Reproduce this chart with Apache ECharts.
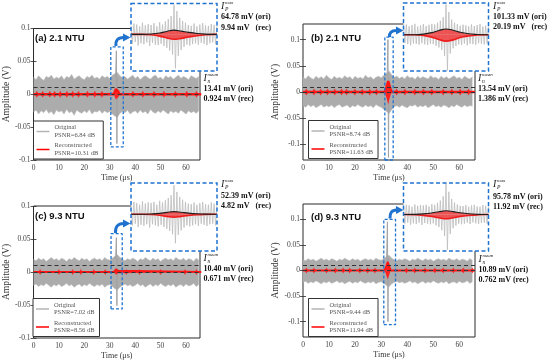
<!DOCTYPE html>
<html><head><meta charset="utf-8">
<script src="https://cdn.jsdelivr.net/npm/echarts@6/dist/echarts.min.js"></script>
<style>html,body{margin:0;padding:0;background:#fff}#c{width:550px;height:361px}</style>
</head><body><div id="c"></div>
<script>
// ---------------- DATA ----------------
const panelLabels = ['(a) 2.1 NTU','(b) 2.1 NTU','(c) 9.3 NTU','(d) 9.3 NTU'];
const psnrOri = ['6.84','8.74','7.02','9.44'];
const psnrRec = ['10.31','11.63','8.56','11.94'];
const ipOriTxt = ['64.78 mV (ori)','101.33 mV (ori)','52.39 mV (ori)','95.78 mV (ori)'];
const ipRecTxt = ['9.94 mV   (rec)','20.19 mV   (rec)','4.82 mV   (rec)','11.92 mV (rec)'];
const inOriTxt = ['13.41 mV (ori)','13.54 mV (ori)','10.40 mV (ori)','10.89 mV (ori)'];
const inRecTxt = ['0.924 mV (rec)','1.386 mV (rec)','0.671 mV (rec)','0.762 mV (rec)'];
const meanOriV = [0.01341, 0.01354, 0.01040, 0.01089];
const meanRecV = [0.000924, 0.001386, 0.000671, 0.000762];
const xTicks = [0,10,20,30,40,50,60];
const yTicks = [-0.1,-0.05,0,0.05,0.1];

// noise envelope of original signal, one value per microsecond (0..65 us)
const noiseUpA = [0.026,0.022,0.028,0.024,0.021,0.027,0.025,0.029,0.023,0.026,0.024,0.028,0.022,0.027,0.025,0.03,0.023,0.026,0.028,0.024,0.022,0.027,0.025,0.029,0.024,0.026,0.023,0.028,0.025,0.027,0.024,0.029,0.031,0.033,0.028,0.025,0.027,0.023,0.026,0.029,0.024,0.027,0.022,0.026,0.028,0.025,0.023,0.027,0.029,0.024,0.026,0.022,0.028,0.025,0.027,0.023,0.026,0.029,0.024,0.027,0.025,0.022,0.028,0.026,0.024,0.027];
const noiseLoA = [-0.027,-0.024,-0.03,-0.025,-0.028,-0.023,-0.029,-0.026,-0.031,-0.024,-0.027,-0.025,-0.03,-0.023,-0.028,-0.026,-0.032,-0.024,-0.027,-0.029,-0.025,-0.028,-0.023,-0.03,-0.026,-0.027,-0.024,-0.029,-0.025,-0.028,-0.026,-0.03,-0.033,-0.035,-0.029,-0.026,-0.028,-0.024,-0.03,-0.027,-0.025,-0.029,-0.024,-0.028,-0.026,-0.03,-0.023,-0.027,-0.029,-0.025,-0.028,-0.024,-0.027,-0.03,-0.025,-0.028,-0.026,-0.029,-0.024,-0.027,-0.03,-0.025,-0.028,-0.026,-0.029,-0.025];
const noiseUpB = [0.028,0.025,0.031,0.027,0.024,0.03,0.026,0.029,0.025,0.032,0.027,0.024,0.03,0.026,0.028,0.025,0.031,0.027,0.029,0.024,0.03,0.026,0.028,0.025,0.032,0.027,0.029,0.024,0.028,0.03,0.027,0.032,0.036,0.04,0.033,0.028,0.03,0.026,0.029,0.025,0.031,0.027,0.028,0.024,0.03,0.026,0.029,0.027,0.025,0.031,0.027,0.028,0.024,0.03,0.026,0.029,0.025,0.028,0.031,0.026,0.028,0.024,0.03,0.027,0.025,0.029];
const noiseLoB = [-0.026,-0.029,-0.024,-0.028,-0.025,-0.03,-0.027,-0.024,-0.029,-0.026,-0.028,-0.025,-0.03,-0.026,-0.024,-0.029,-0.027,-0.025,-0.03,-0.026,-0.028,-0.024,-0.027,-0.029,-0.025,-0.028,-0.026,-0.03,-0.024,-0.027,-0.029,-0.033,-0.037,-0.041,-0.034,-0.028,-0.026,-0.029,-0.025,-0.028,-0.03,-0.026,-0.027,-0.024,-0.029,-0.026,-0.028,-0.025,-0.03,-0.027,-0.024,-0.028,-0.026,-0.029,-0.025,-0.027,-0.03,-0.026,-0.028,-0.024,-0.027,-0.029,-0.025,-0.028,-0.026,-0.027];
const noiseUpC = [0.019,0.017,0.021,0.018,0.02,0.016,0.019,0.022,0.018,0.02,0.017,0.021,0.019,0.016,0.02,0.018,0.022,0.019,0.017,0.021,0.018,0.02,0.016,0.019,0.021,0.018,0.02,0.017,0.022,0.019,0.018,0.021,0.024,0.026,0.022,0.019,0.017,0.02,0.018,0.021,0.019,0.016,0.02,0.018,0.022,0.019,0.017,0.021,0.018,0.02,0.016,0.019,0.021,0.018,0.02,0.017,0.022,0.019,0.018,0.021,0.017,0.02,0.019,0.016,0.021,0.018];
const noiseLoC = [-0.02,-0.018,-0.022,-0.019,-0.021,-0.017,-0.02,-0.023,-0.019,-0.021,-0.018,-0.022,-0.02,-0.017,-0.021,-0.019,-0.023,-0.02,-0.018,-0.022,-0.019,-0.021,-0.017,-0.02,-0.022,-0.019,-0.021,-0.018,-0.023,-0.02,-0.019,-0.022,-0.025,-0.027,-0.023,-0.02,-0.018,-0.021,-0.019,-0.022,-0.02,-0.017,-0.021,-0.019,-0.023,-0.02,-0.018,-0.022,-0.019,-0.021,-0.017,-0.02,-0.022,-0.019,-0.021,-0.018,-0.023,-0.02,-0.019,-0.022,-0.018,-0.021,-0.02,-0.017,-0.022,-0.019];
const noiseUpD = [0.021,0.019,0.023,0.02,0.022,0.018,0.021,0.024,0.02,0.022,0.019,0.023,0.021,0.018,0.022,0.02,0.024,0.021,0.019,0.023,0.02,0.022,0.018,0.021,0.023,0.02,0.022,0.019,0.024,0.021,0.02,0.023,0.027,0.03,0.024,0.021,0.019,0.022,0.02,0.023,0.021,0.018,0.022,0.02,0.024,0.021,0.019,0.023,0.02,0.022,0.018,0.021,0.023,0.02,0.022,0.019,0.024,0.021,0.02,0.023,0.019,0.022,0.021,0.018,0.023,0.02];
const noiseLoD = [-0.023,-0.021,-0.025,-0.022,-0.024,-0.02,-0.023,-0.026,-0.022,-0.024,-0.021,-0.025,-0.023,-0.02,-0.024,-0.022,-0.026,-0.023,-0.021,-0.025,-0.022,-0.024,-0.02,-0.023,-0.025,-0.022,-0.024,-0.021,-0.026,-0.023,-0.022,-0.025,-0.029,-0.032,-0.026,-0.023,-0.021,-0.024,-0.022,-0.025,-0.023,-0.02,-0.024,-0.022,-0.026,-0.023,-0.021,-0.025,-0.022,-0.024,-0.02,-0.023,-0.025,-0.022,-0.024,-0.021,-0.026,-0.023,-0.022,-0.025,-0.021,-0.024,-0.023,-0.02,-0.025,-0.022];

// echo spike of the original signal
const spikeTA = [32.3,32.6,32.8,33.0], spikeVA = [0.025,0.066,-0.075,0.025];
const spikeTB = [32.3,32.6,32.8,33.0], spikeVB = [0.03,0.1,-0.125,0.03];
const spikeTC = [32.3,32.6,32.8,33.0], spikeVC = [0.02,0.052,-0.051,0.02];
const spikeTD = [32.1,32.4,32.6,32.8], spikeVD = [0.025,0.095,-0.1,0.025];

// reconstructed signal: spindle around the echo (rest is ~0)
const recTA = [0,31.6,32.0,32.4,32.7,33.0,33.4,33.8,66];
const recUpA = [0,0,0.004,0.008,0.011,0.008,0.004,0,0];
const recLoA = [0,0,-0.004,-0.008,-0.009,-0.008,-0.004,0,0];
const recTB = [0,31.3,31.8,32.3,32.7,33.1,33.6,34.1,66];
const recUpB = [0,0,0.006,0.014,0.021,0.014,0.006,0,0];
const recLoB = [0,0,-0.007,-0.016,-0.024,-0.015,-0.006,0,0];
const recTC = [0,31.7,32.1,32.4,32.7,33.0,33.3,33.7,66];
const recUpC = [0,0,0.002,0.004,0.006,0.004,0.002,0,0];
const recLoC = [0,0,-0.002,-0.004,-0.006,-0.004,-0.002,0,0];
const recTD = [0,31.2,31.7,32.1,32.5,32.9,33.3,33.8,66];
const recUpD = [0,0,0.005,0.011,0.017,0.011,0.005,0,0];
const recLoD = [0,0,-0.005,-0.011,-0.017,-0.011,-0.005,0,0];
// small residual bursts of the reconstruction (times in us)
const blobTA = [1.3,3.6,6.4,8.3,10.5,13.1,15.4,17.7,21.2,24.1,26.9,39.1,43,47.4,51.3,55.8,60.3,64.1];
const blobTB = [1.3,4.2,6.8,9.4,12.2,14.8,16.7,19.9,22.7,25.6,28.2,35.9,39.1,42.9,46.2,49.4,53.8,57.1,60.3,63.5];
const blobTC = [2.6,10,15.4,18.6,23.7,28.2,36.5,41.7,50,59.6,64.1];
const blobTD = [1.3,4.2,9,12.4,15.4,17.9,21.8,24.8,27.6,39.7,42.9,46.8,50.6,53.8,57.7,61.5,65];

// dashed zoom windows [t0,t1] x [v0,v1]
const zoomBoxT = [[30.4,35.3],[31.4,34.6],[30.5,34.9],[31.0,35.5]];
const zoomBoxV = [[-0.08,0.072],[-0.13,0.105],[-0.056,0.058],[-0.106,0.1]];

// insets: magnified samples around the echo
const insetOriA = [0.019,-0.021,0.024,-0.017,0.022,-0.025,0.018,-0.02,0.026,-0.022,0.02,-0.018,0.023,-0.026,0.021,-0.019,0.025,-0.023,0.018,-0.024,0.027,-0.021,0.022,-0.026,0.029,-0.03,0.034,-0.036,0.041,-0.045,0.066,-0.076,0.052,-0.048,0.037,-0.035,0.03,-0.028,0.026,-0.023,0.021,-0.025,0.019,-0.022,0.024,-0.02,0.018,-0.023,0.022,-0.019,0.025,-0.021,0.02,-0.024,0.019,-0.02,0.023,-0.018,0.021,-0.022,0.02];
const insetOriB = [0.03,-0.027,0.034,-0.031,0.028,-0.035,0.032,-0.029,0.036,-0.03,0.027,-0.033,0.031,-0.028,0.035,-0.032,0.029,-0.034,0.033,-0.03,0.036,-0.031,0.034,-0.037,0.04,-0.042,0.046,-0.05,0.058,-0.07,0.1,-0.118,0.075,-0.062,0.05,-0.045,0.04,-0.037,0.035,-0.032,0.03,-0.034,0.033,-0.029,0.031,-0.035,0.028,-0.03,0.034,-0.031,0.029,-0.033,0.032,-0.028,0.035,-0.03,0.027,-0.032,0.03,-0.029,0.031];
const insetOriC = [0.018,-0.02,0.022,-0.017,0.02,-0.023,0.017,-0.019,0.023,-0.021,0.019,-0.018,0.021,-0.024,0.02,-0.018,0.022,-0.02,0.017,-0.022,0.024,-0.019,0.021,-0.023,0.025,-0.026,0.029,-0.03,0.034,-0.036,0.052,-0.052,0.04,-0.037,0.031,-0.029,0.026,-0.024,0.022,-0.02,0.019,-0.022,0.018,-0.02,0.021,-0.018,0.017,-0.021,0.02,-0.017,0.022,-0.019,0.018,-0.021,0.017,-0.018,0.021,-0.017,0.019,-0.02,0.018];
const insetOriD = [0.026,-0.028,0.03,-0.025,0.028,-0.031,0.024,-0.027,0.031,-0.029,0.027,-0.025,0.029,-0.032,0.028,-0.026,0.03,-0.028,0.025,-0.03,0.032,-0.027,0.03,-0.033,0.036,-0.038,0.043,-0.048,0.056,-0.066,0.096,-0.108,0.07,-0.06,0.048,-0.042,0.037,-0.034,0.031,-0.028,0.027,-0.03,0.026,-0.028,0.029,-0.025,0.024,-0.029,0.028,-0.024,0.03,-0.027,0.025,-0.029,0.024,-0.026,0.029,-0.025,0.027,-0.028,0.026];
const insetEnvT = [0,8,14,20,25,30,35,40,46,52,58,60];
const insetEnvUpA = [0,0,0.0008,0.003,0.0065,0.0095,0.0072,0.0045,0.002,0.0006,0,0];
const insetEnvLoA = [0,0,-0.001,-0.004,-0.008,-0.011,-0.009,-0.006,-0.003,-0.001,0,0];
const insetEnvUpB = [0,0,0.002,0.007,0.014,0.019,0.015,0.008,0.003,0.001,0,0];
const insetEnvLoB = [0,0,-0.002,-0.008,-0.016,-0.021,-0.017,-0.009,-0.004,-0.001,0,0];
const insetEnvUpC = [0,0,0.0005,0.0015,0.0033,0.0047,0.0035,0.002,0.0008,0.0002,0,0];
const insetEnvLoC = [0,0,-0.0006,-0.002,-0.004,-0.0055,-0.004,-0.0024,-0.001,-0.0003,0,0];
const insetEnvUpD = [0,0.0005,0.002,0.005,0.0085,0.0115,0.009,0.0055,0.0025,0.0008,0,0];
const insetEnvLoD = [0,-0.0006,-0.0025,-0.006,-0.01,-0.013,-0.01,-0.006,-0.003,-0.001,0,0];

// ---------------- LAYOUT / STYLE ----------------
const SERIF = '"Liberation Serif","Times New Roman",serif';
const SANS = '"Liberation Sans",Arial,sans-serif';
const BLUE = '#1f73cf';
const mainGrid = [
  {left:30, top:28.5, width:170, height:131.5},
  {left:303, top:24, width:172, height:136},
  {left:30, top:206, width:170, height:133},
  {left:303, top:204, width:172, height:133}
];
const xMax = [65.5, 66, 65.5, 66];
const yRange = [[-0.1,0.1],[-0.13,0.13],[-0.1,0.1],[-0.13,0.13]];
const insetBox = [
  {left:131, top:3.5, width:86, height:67.5},
  {left:403.5, top:3, width:85, height:68},
  {left:131, top:183, width:86, height:68},
  {left:403.5, top:183, width:85, height:68}
];
const insetY = [[-0.082,0.069],[-0.12,0.105],[-0.066,0.056],[-0.112,0.097]];
const legendPos = [{left:33.5, top:121},{left:308.5, top:120.5},{left:33, top:298.5},{left:308.5, top:298.5}];
const labelPos = [[35,38.5],[311,38.5],[35,216.5],[311,217.5]];
const annot = [
  {ipX:221, ipY:6.5, ipOriY:17, ipRecY:27.5, inX:203.5, inY:78, inOriY:88.5, inRecY:98.5},
  {ipX:493, ipY:6, ipOriY:16.5, ipRecY:27, inX:478, inY:78, inOriY:89, inRecY:98.5},
  {ipX:221, ipY:184.5, ipOriY:195.5, ipRecY:206, inX:203.5, inY:258.5, inOriY:269, inRecY:278.5},
  {ipX:493, ipY:184.5, ipOriY:196.5, ipRecY:207, inX:478.5, inY:259, inOriY:270, inRecY:279.5}
];
const arrows = [
  {x1:116, y1:46, cx:115, cy:37.5, x2:123.5, y2:37.5},
  {x1:389.5, y1:37, cx:389, cy:30.5, x2:396.5, y2:30.5},
  {x1:115.5, y1:233, cx:115, cy:223.5, x2:123.5, y2:223.5},
  {x1:390, y1:218.5, cx:389.5, cy:210, x2:396.5, y2:210}
];
const redWidth = [2.4, 2.4, 1.8, 1.8];

const noiseUp = [noiseUpA, noiseUpB, noiseUpC, noiseUpD];
const noiseLo = [noiseLoA, noiseLoB, noiseLoC, noiseLoD];
const spikeT = [spikeTA, spikeTB, spikeTC, spikeTD];
const spikeV = [spikeVA, spikeVB, spikeVC, spikeVD];
const recT = [recTA, recTB, recTC, recTD];
const recUp = [recUpA, recUpB, recUpC, recUpD];
const recLo = [recLoA, recLoB, recLoC, recLoD];
const blobT = [blobTA, blobTB, blobTC, blobTD];
const insetOri = [insetOriA, insetOriB, insetOriC, insetOriD];
const insetEnvUp = [insetEnvUpA, insetEnvUpB, insetEnvUpC, insetEnvUpD];
const insetEnvLo = [insetEnvLoA, insetEnvLoB, insetEnvLoC, insetEnvLoD];

const pairs = (t, v) => v.map((y, k) => [t[k], y]);
const idx = v => v.map((y, k) => [k, y]);
const fmt = v => (v === 0 ? '0' : String(+v.toFixed(2)));

const grid = [], xAxis = [], yAxis = [], series = [], legend = [], graphic = [];

for (let i = 0; i < 4; i++) grid.push(Object.assign({show:true, borderColor:'#2a2a2a', borderWidth:1, backgroundColor:'#fff'}, mainGrid[i]));
for (let i = 0; i < 4; i++) grid.push(Object.assign({show:false}, insetBox[i]));

const tickStyle = {inside:true, length:3, lineStyle:{color:'#2a2a2a', width:0.8}};
for (let i = 0; i < 4; i++) {
  xAxis.push({gridIndex:i, type:'value', min:0, max:xMax[i],
    axisLine:{show:false}, splitLine:{show:false},
    axisTick:Object.assign({customValues:xTicks}, tickStyle),
    axisLabel:{customValues:xTicks, fontFamily:SERIF, fontSize:7.5, color:'#444', margin:4},
    name:'Time (μs)', nameLocation:'middle', nameGap:14,
    nameTextStyle:{fontFamily:SERIF, fontSize:8, color:'#333'}});
  yAxis.push({gridIndex:i, type:'value', min:yRange[i][0], max:yRange[i][1],
    axisLine:{show:false}, splitLine:{show:false},
    axisTick:Object.assign({customValues:yTicks}, tickStyle),
    axisLabel:{customValues:yTicks, formatter:fmt, fontFamily:SERIF, fontSize:7.5, color:'#444', margin:3},
    name:'Amplitude (V)', nameLocation:'middle', nameGap:19,
    nameTextStyle:{fontFamily:SERIF, fontSize:9.5, color:'#333'}});
}
for (let i = 0; i < 4; i++) {
  xAxis.push({gridIndex:i, type:'value', position:'top', min:0, max:xMax[i],
    axisLine:{show:false}, splitLine:{show:false}, axisLabel:{show:false},
    axisTick:Object.assign({customValues:xTicks}, tickStyle)});
  yAxis.push({gridIndex:i, type:'value', position:'right', min:yRange[i][0], max:yRange[i][1],
    axisLine:{show:false}, splitLine:{show:false}, axisLabel:{show:false},
    axisTick:Object.assign({customValues:yTicks}, tickStyle)});
}
for (let i = 0; i < 4; i++) {
  xAxis.push({gridIndex:4+i, type:'value', min:0, max:insetOri[i].length - 1, show:false});
  yAxis.push({gridIndex:4+i, type:'value', min:insetY[i][0], max:insetY[i][1], show:false});
}

for (let i = 0; i < 4; i++) {
  const common = {xAxisIndex:i, yAxisIndex:i, symbol:'none', silent:true};
  series.push(Object.assign({name:'Original', type:'line', data:idx(noiseUp[i]), color:'#b4b4b4',
    lineStyle:{width:0.6, color:'#b9b9b9'}, areaStyle:{color:'#acacac', opacity:1}, z:2}, common));
  series.push(Object.assign({name:'Original', type:'line', data:idx(noiseLo[i]), color:'#b4b4b4',
    lineStyle:{width:0.6, color:'#b9b9b9'}, areaStyle:{color:'#acacac', opacity:1}, z:2}, common));
  series.push(Object.assign({name:'Original', type:'line', data:pairs(spikeT[i], spikeV[i]), color:'#b4b4b4',
    lineStyle:{width:1, color:'#a4a4a4'}, z:2}, common));
  series.push(Object.assign({name:'Reconstructed', type:'line', data:pairs(recT[i], recUp[i]), color:'#ff0000',
    lineStyle:{width:redWidth[i], color:'#ff1414'}, areaStyle:{color:'#ff2020', opacity:1}, z:3,
    markLine:{silent:true, symbol:'none', label:{show:false}, z:5,
      lineStyle:{color:'#333', width:1, type:[4,3]},
      data:[{yAxis:meanOriV[i]}, {yAxis:meanRecV[i]}]}}, common));
  series.push(Object.assign({name:'Reconstructed', type:'line', data:pairs(recT[i], recLo[i]), color:'#ff0000',
    lineStyle:{width:0}, areaStyle:{color:'#ff2020', opacity:1}, z:3}, common));
  series.push({name:'Reconstructed', type:'scatter', xAxisIndex:i, yAxisIndex:i, silent:true,
    data:blobT[i].map(t => [t, 0]), symbol:'diamond', symbolSize:i < 2 ? [4,7] : [3.5,6],
    itemStyle:{color:'#ff1414'}, z:3});
  const bt = zoomBoxT[i], bv = zoomBoxV[i];
  series.push(Object.assign({name:'zoom window', type:'line', clip:false,
    data:[[bt[0],bv[0]],[bt[1],bv[0]],[bt[1],bv[1]],[bt[0],bv[1]],[bt[0],bv[0]]],
    lineStyle:{color:BLUE, width:1.3, type:[3,2]}, z:6}, common));

  // inset
  const ic = {xAxisIndex:8+i, yAxisIndex:8+i, symbol:'none', silent:true};
  series.push(Object.assign({name:'inset original', type:'line', data:idx(insetOri[i]),
    lineStyle:{width:0.8, color:'#bdbdbd'}, z:10}, ic));
  series.push(Object.assign({name:'inset reconstructed', type:'line', data:pairs(insetEnvT, insetEnvLo[i]), smooth:0.4,
    lineStyle:{width:1.6, color:'#ee1c1c'}, areaStyle:{color:'#f04545', opacity:0.9}, z:11}, ic));
  series.push(Object.assign({name:'inset envelope', type:'line', data:pairs(insetEnvT, insetEnvUp[i]), smooth:0.4,
    lineStyle:{width:1.1, color:'#1e1e1e'}, areaStyle:{color:'#f04545', opacity:0.9}, z:12}, ic));

  legend.push(Object.assign({orient:'vertical', data:['Original','Reconstructed'], selectedMode:false,
    icon:'rect', itemWidth:13, itemHeight:1.5, itemGap:3, padding:[3,5,2,3],
    backgroundColor:'#fff', borderColor:'#333', borderWidth:1, borderRadius:0,
    textStyle:{fontFamily:SERIF, fontSize:6.5, lineHeight:7.5, color:'#555'},
    formatter:name => name === 'Original' ? 'Original\nPSNR=' + psnrOri[i] + ' dB' : 'Reconstructed\nPSNR=' + psnrRec[i] + ' dB',
    z:8}, legendPos[i]));

  const b = insetBox[i];
  graphic.push({type:'rect', shape:{x:b.left, y:b.top, width:b.width, height:b.height}, style:{fill:'#fff'}, z:8, silent:true});
  graphic.push({type:'rect', shape:{x:b.left, y:b.top, width:b.width, height:b.height},
    style:{fill:null, stroke:BLUE, lineWidth:1.5, lineDash:[4,2.5]}, z:20, silent:true});
  const a = arrows[i];
  graphic.push({type:'bezierCurve', shape:{x1:a.x1, y1:a.y1, x2:a.x2, y2:a.y2, cpx1:a.cx, cpy1:a.cy},
    style:{stroke:BLUE, lineWidth:3, fill:null}, z:20, silent:true});
  graphic.push({type:'polygon', shape:{points:[[a.x2-0.5,a.y2-4],[a.x2+7,a.y2],[a.x2-0.5,a.y2+4]]},
    style:{fill:BLUE}, z:20, silent:true});
  graphic.push({type:'text', x:labelPos[i][0], y:labelPos[i][1], z:20, silent:true,
    style:{text:panelLabels[i], font:'bold 9.5px ' + SANS, fill:'#111', verticalAlign:'middle'}});
  const n = annot[i];
  const bold = 'bold 8px ' + SERIF;
  graphic.push({type:'text', x:n.ipX, y:n.ipY, z:20, silent:true, style:{text:'I', font:'italic 10px ' + SERIF, fill:'#222', verticalAlign:'middle'}});
  graphic.push({type:'text', x:n.ipX+4, y:n.ipY-3.5, z:20, silent:true, style:{text:'max', font:'italic 5px ' + SERIF, fill:'#222', verticalAlign:'middle'}});
  graphic.push({type:'text', x:n.ipX+4, y:n.ipY+3.5, z:20, silent:true, style:{text:'P', font:'italic 5.5px ' + SERIF, fill:'#222', verticalAlign:'middle'}});
  graphic.push({type:'text', x:n.ipX, y:n.ipOriY, z:20, silent:true, style:{text:ipOriTxt[i], font:bold, fill:'#111', verticalAlign:'middle'}});
  graphic.push({type:'text', x:n.ipX, y:n.ipRecY, z:20, silent:true, style:{text:ipRecTxt[i], font:bold, fill:'#111', verticalAlign:'middle'}});
  graphic.push({type:'text', x:n.inX, y:n.inY, z:20, silent:true, style:{text:'I', font:'italic 10px ' + SERIF, fill:'#222', verticalAlign:'middle'}});
  graphic.push({type:'text', x:n.inX+4, y:n.inY-3.5, z:20, silent:true, style:{text:'mean', font:'italic 5px ' + SERIF, fill:'#222', verticalAlign:'middle'}});
  graphic.push({type:'text', x:n.inX+4, y:n.inY+3.5, z:20, silent:true, style:{text:'n', font:'italic 5.5px ' + SERIF, fill:'#222', verticalAlign:'middle'}});
  graphic.push({type:'text', x:n.inX, y:n.inOriY, z:20, silent:true, style:{text:inOriTxt[i], font:bold, fill:'#111', verticalAlign:'middle'}});
  graphic.push({type:'text', x:n.inX, y:n.inRecY, z:20, silent:true, style:{text:inRecTxt[i], font:bold, fill:'#111', verticalAlign:'middle'}});
}

const chart = echarts.init(document.getElementById('c'), null, {renderer:'canvas'});
chart.setOption({animation:false, backgroundColor:'#fff', grid, xAxis, yAxis, series, legend, graphic});
</script></body></html>
